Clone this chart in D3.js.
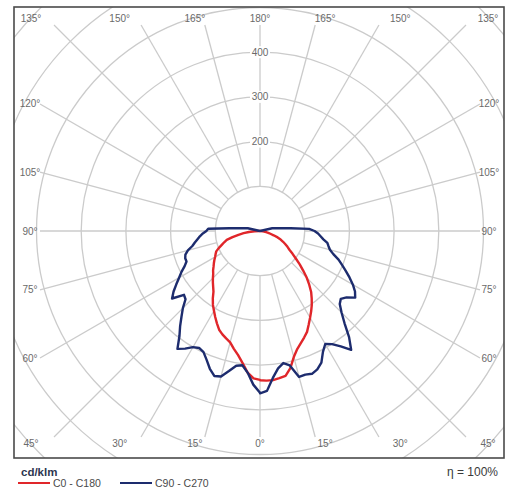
<!DOCTYPE html>
<html>
<head>
<meta charset="utf-8">
<script src="https://cdn.jsdelivr.net/npm/d3@7"></script>
<style>
  html, body { margin: 0; padding: 0; background: #fff; }
  svg { display: block; font-family: "Liberation Sans", Arial, sans-serif; }
</style>
</head>
<body>
<svg id="chart" width="510" height="493"></svg>
<script>
// Polar luminous intensity diagram (cd/klm), gamma measured from nadir.
const gammas = [
  0, 2.5, 5, 7.5, 10, 12.5, 15, 17.5, 20, 22.5, 25, 27.5, 30, 32.5, 35, 37.5,
  40, 42.5, 45, 47.5, 50, 52.5, 55, 57.5, 60, 62.5, 65, 67.5, 70, 72.5, 75, 77.5,
  80, 82.5, 85, 87.5, 90, 92.5, 95, 97.5, 100, 102.5, 105, 120, 135, 150, 165, 180
];

// C0 - C180 plane (C180 drawn on the left half, C0 on the right half)
const c180 = [
  333, 330, 318, 298, 282, 270, 258, 252, 246, 239, 228, 217, 206, 196, 184, 171,
  163, 156, 149, 142, 137, 131, 126, 121, 116, 112, 108, 100, 91, 84, 77, 63,
  49, 37, 25, 12, 0, 0, 0, 0, 0, 0, 0, 0, 0, 0, 0, 0
];
const c0 = [
  334, 335, 335, 332, 329, 314, 292, 277, 267, 258, 249, 236, 224, 213, 202, 190,
  178, 163, 148, 131, 116, 101, 89, 78, 71, 64, 57, 50, 42, 32, 24, 19,
  14, 9, 5, 2, 0, 0, 0, 0, 0, 0, 0, 0, 0, 0, 0, 0
];

// C90 - C270 plane (C270 drawn on the left half, C90 on the right half)
const c270 = [
  362, 344, 318, 303, 306, 321, 337, 340, 328, 312, 299, 295, 300, 312, 322, 296,
  278, 260, 244, 226, 222, 248, 236, 222, 209, 198, 186, 178, 178, 175, 167, 155,
  148, 141, 135, 128, 120, 116, 69, 46, 35, 28, 0, 0, 0, 0, 0, 0
];
const c90 = [
  363, 358, 330, 310, 300, 308, 338, 337, 340, 335, 325, 305, 292, 300, 315, 335,
  310, 280, 258, 242, 236, 244, 260, 252, 240, 226, 212, 199, 187, 172, 162, 157,
  153, 143, 136, 130, 122, 110, 69, 46, 35, 28, 0, 0, 0, 0, 0, 0
];

const ringValues = [100, 200, 300, 400, 500, 600, 700];
const ringLabels = [200, 300, 400];
const spokeAngles = [0, 15, 30, 45, 60, 75, 90, 105, 120, 135, 150, 165, 180];
const seriesNames = ["C0 - C180", "C90 - C270"];
const unitLabel = "cd/klm";
const efficiencyLabel = "η = 100%";

const W = 510, H = 493;
const cx = 260, cy = 231;
const frame = { x0: 14, y0: 7, x1: 504, y1: 458 };
const spokeBox = { x0: 40, y0: 25, x1: 480, y1: 437 };
const gridColor = "#cbcbcb";
const labelColor = "#6a6a6a";
const colors = ["#e0262a", "#1d2c6e"];

const svg = d3.select("#chart");
const r = d3.scaleLinear().domain([0, 100]).range([0, 44.7]);
const rad = d => d * Math.PI / 180;

svg.append("defs").append("clipPath").attr("id", "frameClip")
  .append("rect")
  .attr("x", frame.x0).attr("y", frame.y0)
  .attr("width", frame.x1 - frame.x0).attr("height", frame.y1 - frame.y0);

const grid = svg.append("g").attr("clip-path", "url(#frameClip)");

// concentric rings
grid.selectAll("circle.ring").data(ringValues).join("circle")
  .attr("class", "ring")
  .attr("cx", cx).attr("cy", cy)
  .attr("r", d => r(d))
  .attr("fill", "none")
  .attr("stroke", gridColor)
  .attr("stroke-width", 1.3);

// spokes every 15°, both halves, starting at the innermost ring
const spokes = [];
spokeAngles.forEach(g => {
  const sides = (g === 0 || g === 180) ? [1] : [-1, 1];
  sides.forEach(s => spokes.push({ g, s }));
});
function boxHit(dx, dy, box) {
  let t = Infinity;
  if (dx > 1e-9) t = Math.min(t, (box.x1 - cx) / dx);
  if (dx < -1e-9) t = Math.min(t, (box.x0 - cx) / dx);
  if (dy > 1e-9) t = Math.min(t, (box.y1 - cy) / dy);
  if (dy < -1e-9) t = Math.min(t, (box.y0 - cy) / dy);
  return t;
}
grid.selectAll("line.spoke").data(spokes).join("line")
  .attr("class", "spoke")
  .each(function (d) {
    const dx = d.s * Math.sin(rad(d.g));
    const dy = Math.cos(rad(d.g));
    const t0 = r(100);
    const t1 = boxHit(dx, dy, spokeBox);
    d3.select(this)
      .attr("x1", cx + dx * t0).attr("y1", cy + dy * t0)
      .attr("x2", cx + dx * t1).attr("y2", cy + dy * t1);
  })
  .attr("stroke", gridColor)
  .attr("stroke-width", 1.3);

// angle labels along the frame
const edgeLabels = [];
spokes.forEach(d => {
  const dx = d.s * Math.sin(rad(d.g));
  const dy = Math.cos(rad(d.g));
  let x, y;
  if (d.g === 45 || d.g === 135) {
    x = d.s < 0 ? 31 : 488;
    y = d.g === 45 ? 443 : 18;
  } else if (Math.abs(dy) > Math.abs(dx)) {
    // top and bottom rows
    y = dy > 0 ? 443 : 18;
    x = cx + (dx / Math.abs(dy)) * 243;
  } else {
    // left and right columns
    x = d.s < 0 ? 30 : 489;
    y = cy + (dy / Math.abs(dx)) * 220;
  }
  edgeLabels.push({ text: d.g + "°", x, y });
});
svg.append("g").selectAll("text").data(edgeLabels).join("text")
  .attr("x", d => d.x).attr("y", d => d.y)
  .attr("text-anchor", "middle")
  .attr("dominant-baseline", "central")
  .attr("font-size", 10)
  .attr("fill", labelColor)
  .text(d => d.text);

// ring value labels on the upward axis
const ringLabelG = svg.append("g").selectAll("g").data(ringLabels).join("g")
  .attr("transform", d => `translate(${cx},${cy - r(d)})`);
ringLabelG.append("rect")
  .attr("x", -10).attr("y", -6).attr("width", 20).attr("height", 12)
  .attr("fill", "#fff");
ringLabelG.append("text")
  .attr("text-anchor", "middle")
  .attr("dominant-baseline", "central")
  .attr("font-size", 10)
  .attr("fill", labelColor)
  .text(d => d);

// intensity curves
const line = d3.lineRadial()
  .angle(d => d.a)
  .radius(d => r(d.v))
  .curve(d3.curveLinear);

function halfPlanes(left, right) {
  const pts = [];
  for (let i = gammas.length - 1; i >= 0; i--) pts.push({ a: Math.PI + rad(gammas[i]), v: left[i] });
  for (let i = 0; i < gammas.length; i++) pts.push({ a: Math.PI - rad(gammas[i]), v: right[i] });
  return pts;
}
const curves = [halfPlanes(c180, c0), halfPlanes(c270, c90)];

svg.append("g").attr("transform", `translate(${cx},${cy})`)
  .selectAll("path").data(curves).join("path")
  .attr("d", d => line(d))
  .attr("fill", "none")
  .attr("stroke", (d, i) => colors[i])
  .attr("stroke-width", 2.4)
  .attr("stroke-linejoin", "round");

// frame
svg.append("rect")
  .attr("x", frame.x0).attr("y", frame.y0)
  .attr("width", frame.x1 - frame.x0).attr("height", frame.y1 - frame.y0)
  .attr("fill", "none")
  .attr("stroke", "#4a4a4a")
  .attr("stroke-width", 1.6);

// unit and efficiency
svg.append("text")
  .attr("x", 21).attr("y", 476)
  .attr("font-size", 11.5).attr("font-weight", "bold")
  .attr("fill", "#2d3650")
  .text(unitLabel);
svg.append("text")
  .attr("x", 498).attr("y", 476)
  .attr("text-anchor", "end")
  .attr("font-size", 12)
  .attr("fill", "#3a3a3a")
  .text(efficiencyLabel);

// legend
const legend = svg.append("g").selectAll("g").data(seriesNames).join("g")
  .attr("transform", (d, i) => `translate(${18 + i * 102},483)`);
legend.append("line")
  .attr("x1", 0).attr("x2", 32).attr("y1", 0).attr("y2", 0)
  .attr("stroke", (d, i) => colors[i])
  .attr("stroke-width", 2);
legend.append("text")
  .attr("x", 35).attr("y", 0)
  .attr("dominant-baseline", "central")
  .attr("font-size", 10.5)
  .attr("fill", "#4a4a4a")
  .text(d => d);
</script>
</body>
</html>
